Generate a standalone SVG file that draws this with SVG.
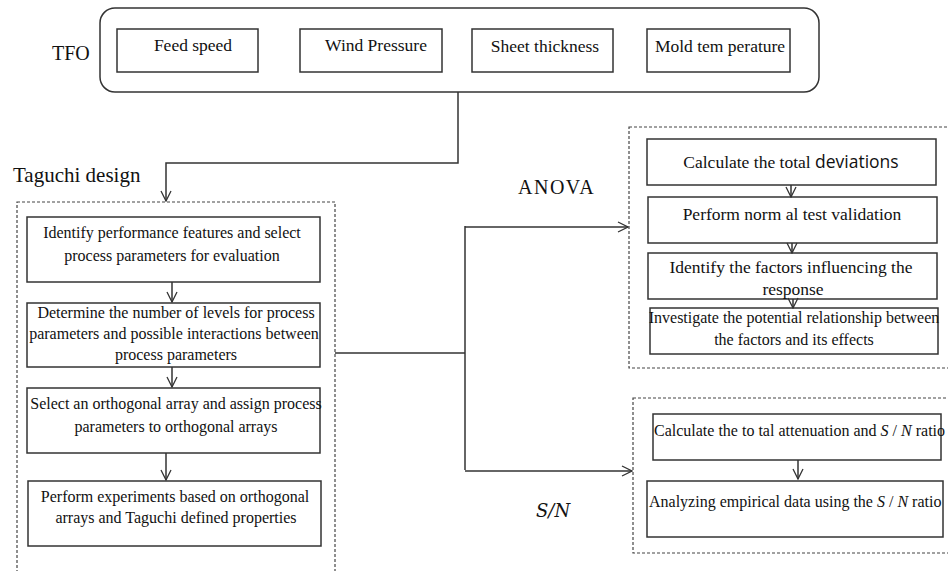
<svg xmlns="http://www.w3.org/2000/svg" width="948" height="571" viewBox="0 0 948 571" font-family="Liberation Serif, Times New Roman, serif">
<defs>
<style>
.box{fill:#fff;stroke:#333;stroke-width:1.5}
.dash{fill:none;stroke:#444;stroke-width:1.2;stroke-dasharray:3 2}
.t{font-size:16px;fill:#111;text-anchor:middle}
.b{font-size:17.5px}
.lbl{font-size:20px;fill:#111}
.ln{fill:none;stroke:#333;stroke-width:1.5}
.it{font-style:italic}
</style>
<marker id="ah" viewBox="0 0 12 12" refX="11" refY="6" markerWidth="12" markerHeight="12" markerUnits="userSpaceOnUse" orient="auto">
<path d="M1,1 L11,6 L1,11" fill="none" stroke="#333" stroke-width="1.3"/>
</marker>
</defs>
<rect width="948" height="571" fill="#fff"/>

<g id="tfo">
<rect x="100" y="8" width="719" height="84" rx="15" ry="15" class="box"/>
<text class="lbl" x="52" y="60" font-family="Liberation Serif, serif">TFO</text>
</g>
<g id="feed-speed" font-family="Liberation Serif, serif">
<rect x="117" y="29" width="141" height="43" class="box"/>
<text class="t b" x="193" y="51">Feed speed</text>
</g>
<g id="wind-pressure" font-family="Liberation Serif, serif">
<rect x="300" y="29" width="142" height="43" class="box"/>
<text class="t b" x="376" y="51">Wind Pressure</text>
</g>
<g id="sheet-thickness" font-family="Liberation Serif, serif">
<rect x="472" y="29" width="141" height="43" class="box"/>
<text class="t b" x="545" y="52">Sheet thickness</text>
</g>
<g id="mold-temperature" font-family="Liberation Serif, serif">
<rect x="647" y="29" width="143" height="43" class="box"/>
<text class="t b" x="720" y="52">Mold tem perature</text>
</g>

<g id="taguchi" font-family="Liberation Serif, serif">
<text class="lbl" x="13" y="182" style="font-size:21px">Taguchi design</text>
<rect x="17" y="202" width="318" height="380" class="dash"/>
</g>
<g id="t1" font-family="Liberation Serif, serif">
<rect x="27" y="217" width="293" height="65" class="box"/>
<text class="t" x="172" y="238">Identify performance  features and select</text>
<text class="t" x="172" y="261">process parameters  for evaluation</text>
</g>
<g id="t2" font-family="Liberation Serif, serif">
<rect x="27" y="303" width="293" height="64" class="box"/>
<text class="t" x="176" y="318">Determine  the number of levels  for process</text>
<text class="t" x="174" y="339">parameters  and possible interactions  between</text>
<text class="t" x="176" y="360">process parameters</text>
</g>
<g id="t3" font-family="Liberation Serif, serif">
<rect x="27" y="388" width="293" height="65" class="box"/>
<text class="t" x="176" y="409">Select an orthogonal array and assign process</text>
<text class="t" x="176" y="432">parameters  to orthogonal arrays</text>
</g>
<g id="t4" font-family="Liberation Serif, serif">
<rect x="28" y="481" width="293" height="65" class="box"/>
<text class="t" x="175" y="502">Perform experiments  based on orthogonal</text>
<text class="t" x="176" y="523">arrays and Taguchi  defined properties</text>
</g>

<g id="anova" font-family="Liberation Serif, serif">
<text class="lbl" x="518" y="194" style="letter-spacing:1.5px">ANOVA</text>
<rect x="629" y="127" width="325" height="241" class="dash"/>
</g>
<g id="a1" font-family="Liberation Serif, serif">
<rect x="647" y="139" width="289" height="46" class="box"/>
<text class="t b" x="791" y="168">Calculate the total <tspan style="font-family:'Open Sans','Liberation Sans',sans-serif;font-size:17.5px">deviations</tspan></text>
</g>
<g id="a2" font-family="Liberation Serif, serif">
<rect x="648" y="197" width="289" height="46" class="box"/>
<text class="t b" x="792" y="220">Perform  norm al test validation</text>
</g>
<g id="a3" font-family="Liberation Serif, serif">
<rect x="648" y="253" width="289" height="46" class="box"/>
<text class="t b" x="791" y="273">Identify the factors influencing the</text>
<text class="t b" x="793" y="295">response</text>
</g>
<g id="a4" font-family="Liberation Serif, serif">
<rect x="650" y="308" width="288" height="46" class="box"/>
<text class="t" x="794" y="323">Investigate  the potential  relationship  between</text>
<text class="t" x="794" y="345">the factors and its effects</text>
</g>

<g id="sn" font-family="Liberation Serif, serif">
<text class="lbl it" x="536" y="517" style="font-family:'DejaVu Serif',serif;font-size:18px">S/N</text>
<rect x="633" y="398" width="321" height="155" class="dash"/>
</g>
<g id="s1" font-family="Liberation Serif, serif">
<rect x="653" y="414" width="288" height="46" class="box"/>
<text class="t" x="654" y="436" style="text-anchor:start">Calculate  the to tal attenuation and <tspan class="it">S</tspan>  /  <tspan class="it">N</tspan> ratio</text>
</g>
<g id="s2" font-family="Liberation Serif, serif">
<rect x="647" y="481" width="296" height="56" class="box"/>
<text class="t" x="649" y="507" style="text-anchor:start">Analyzing empirical data using  the <tspan class="it">S</tspan>  /  <tspan class="it">N</tspan> ratio</text>
</g>

<g id="connectors">
<path class="ln" d="M458,92 V163 H166 V201" marker-end="url(#ah)"/>
<path class="ln" d="M172,282 V302" marker-end="url(#ah)"/>
<path class="ln" d="M172,367 V387" marker-end="url(#ah)"/>
<path class="ln" d="M166,453 V480" marker-end="url(#ah)"/>
<path class="ln" d="M335,353 H465"/>
<path class="ln" d="M465,226 V470"/>
<path class="ln" d="M465,227 H628" marker-end="url(#ah)"/>
<path class="ln" d="M465,471 H632" marker-end="url(#ah)"/>
<path class="ln" d="M791,185 V197" marker-end="url(#ah)"/>
<path class="ln" d="M792,243 V253" marker-end="url(#ah)"/>
<path class="ln" d="M793,299 V308" marker-end="url(#ah)"/>
<path class="ln" d="M798,460 V479" marker-end="url(#ah)"/>
</g>
</svg>
